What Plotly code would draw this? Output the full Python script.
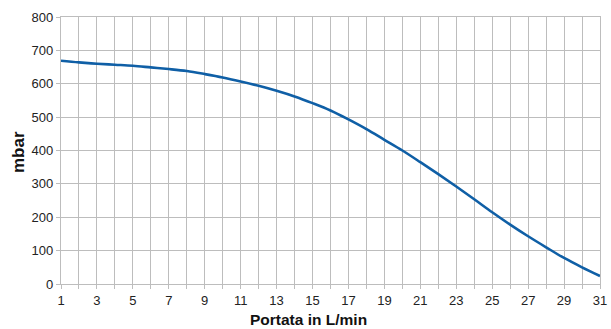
import plotly.graph_objects as go

flow = list(range(1, 32))
pressure = [669, 664, 660, 657, 654, 649, 644, 638, 629, 619, 607, 594, 579, 562,
            542, 520, 493, 464, 432, 400, 365, 329, 292, 254, 215, 178, 143, 110,
            78, 50, 24]

x_ticks = list(range(1, 32, 2))
y_ticks = list(range(0, 801, 100))

W, H = 611, 329
L, R, T, B = 61, 11, 17, 45
pw, ph = W - L - R, H - T - B

grid = "#bdbdbd"
fig = go.Figure()
fig.add_trace(go.Scatter(
    x=flow, y=pressure, mode="lines",
    line=dict(color="#0f5fa6", width=2.6, shape="spline", smoothing=1.0),
    hoverinfo="skip", showlegend=False))

fig.update_layout(
    width=W, height=H,
    margin=dict(l=L, r=R, t=T, b=B, autoexpand=False),
    paper_bgcolor="white", plot_bgcolor="white",
    font=dict(family="Liberation Sans, Arial, sans-serif", size=13, color="#222"),
    annotations=[
        dict(text="<b>Portata in L/min</b>", xref="paper", yref="paper",
             x=(308 - L) / pw, y=(H - B - 319) / ph, xanchor="center", yanchor="middle",
             showarrow=False, font=dict(size=15.5, color="#111")),
        dict(text="<b>mbar</b>", xref="paper", yref="paper",
             x=(18 - L) / pw, y=(H - B - 152) / ph, xanchor="center", yanchor="middle",
             textangle=-90, showarrow=False, font=dict(size=17, color="#111")),
    ],
)
fig.update_xaxes(
    range=[1, 31], tickvals=x_ticks, ticktext=[str(v) for v in x_ticks],
    showgrid=True, gridcolor=grid, gridwidth=1.2,
    minor=dict(dtick=1, tick0=1, showgrid=True, gridcolor=grid, gridwidth=1.2,
               ticks="outside", ticklen=4, tickcolor=grid),
    ticks="outside", ticklen=4, tickcolor=grid,
    showline=True, linecolor=grid, linewidth=1.2, mirror=True,
    zeroline=False, automargin=False,
)
fig.update_yaxes(
    range=[0, 800], tickvals=y_ticks,
    showgrid=True, gridcolor=grid, gridwidth=1.2,
    ticks="outside", ticklen=4, tickcolor=grid,
    showline=True, linecolor=grid, linewidth=1.2, mirror=True,
    zeroline=False, automargin=False,
)
fig.write_html("out.html", config={"displayModeBar": False},
               post_script="document.body.style.margin='0';document.body.style.padding='0';")
